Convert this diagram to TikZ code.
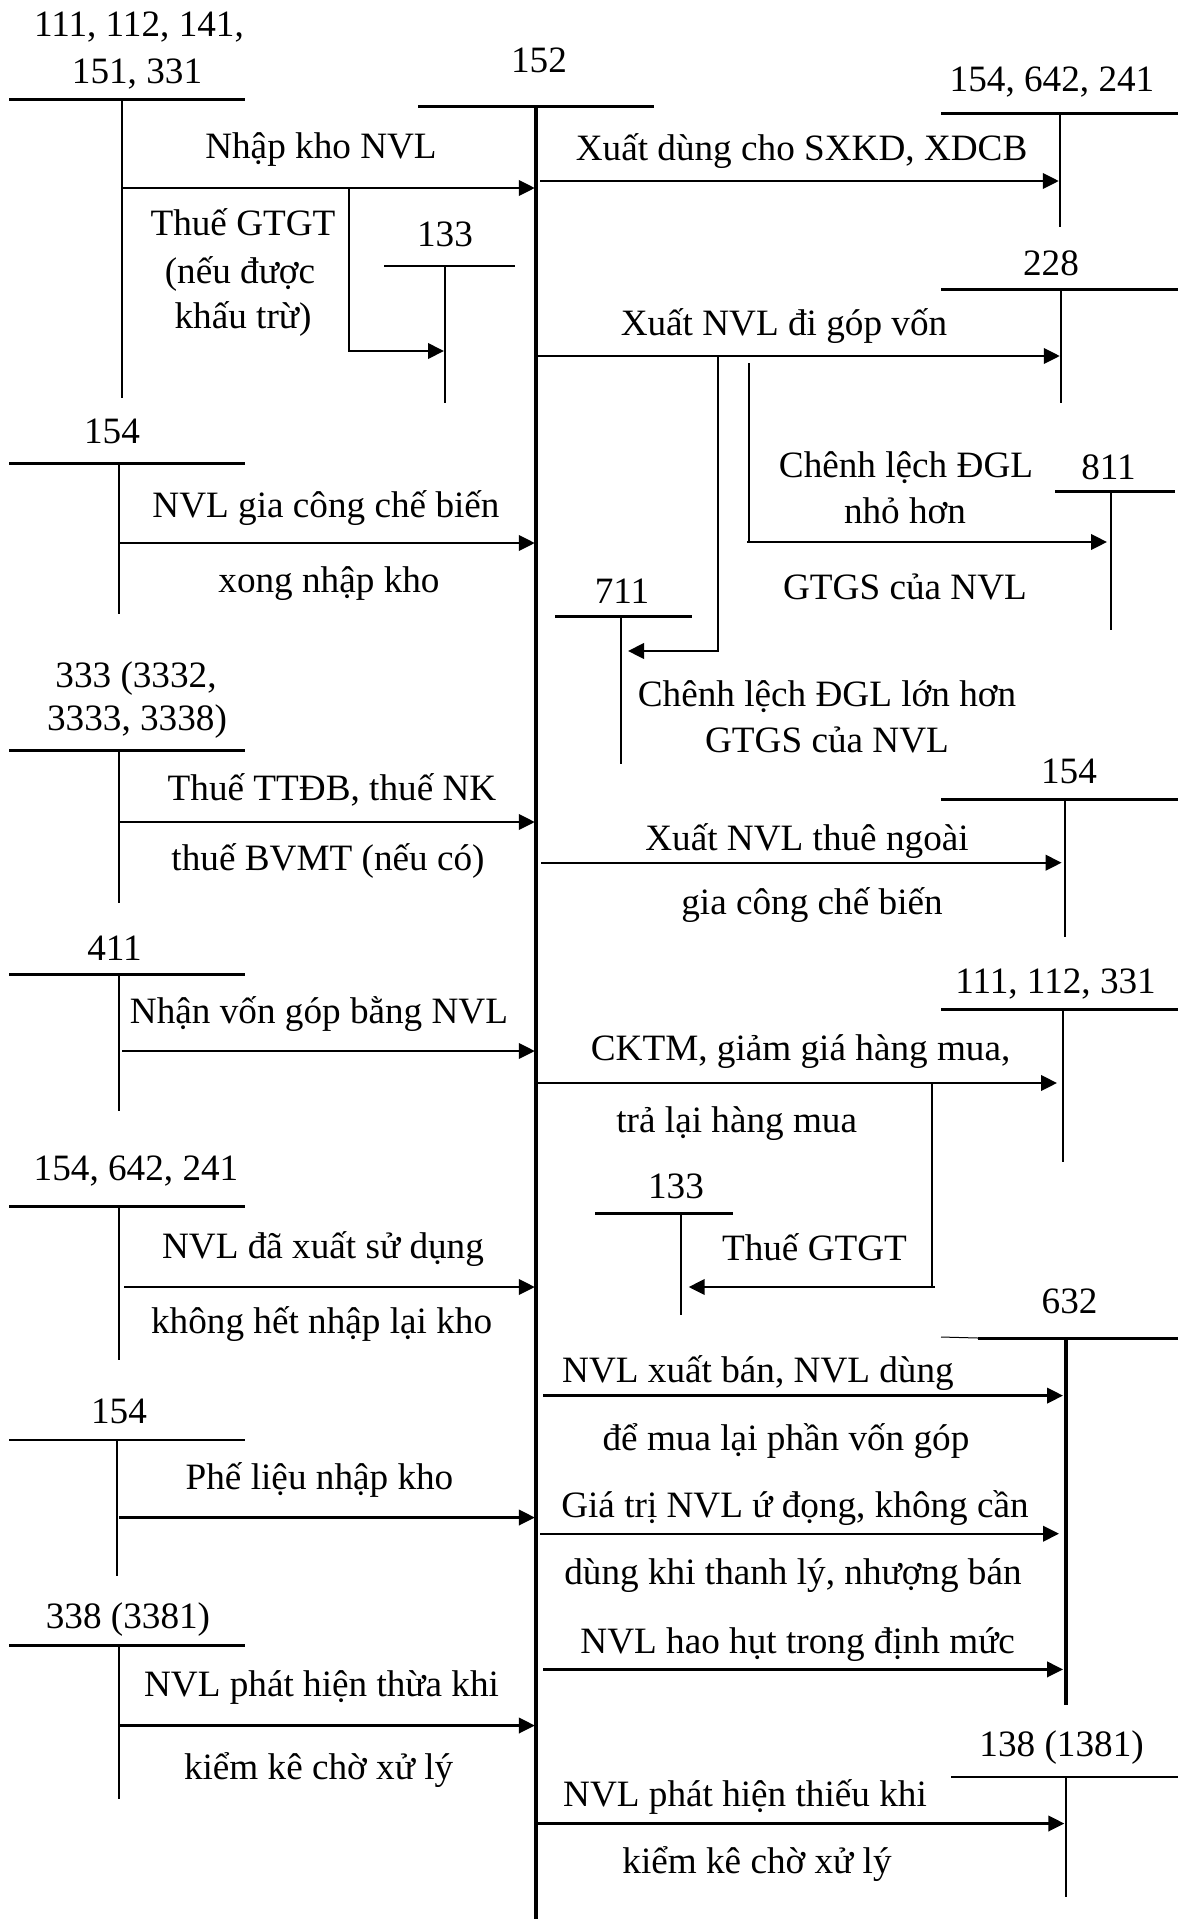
\documentclass[tikz,border=0pt]{standalone}
\usepackage{fontspec}
\setmainfont{Liberation Serif}
\usetikzlibrary{arrows.meta}
\begin{document}
\begin{tikzpicture}[x=1pt,y=-1pt,
  lbl/.style={anchor=base, inner sep=0pt, font=\fontsize{37.2}{44}\selectfont},
  tline/.style={line width=3pt},
  tthin/.style={line width=1.5pt},
  tvert/.style={line width=2pt},
  mainv/.style={line width=3.2pt},
  tip/.style={-{Triangle[length=16pt,width=15.5pt]}},
  arr/.style={line width=2.4pt, tip, shorten >=1.2pt},
  thinarr/.style={line width=2pt, tip}]
\useasboundingbox (0,0) rectangle (1178,1919);

% ---------------- 152 ----------------
\node[lbl] (n152) at (539,72) {152};
\coordinate (mL) at (418,106); \coordinate (mR) at (654,106);
\coordinate (mT) at (536,106); \coordinate (mB) at (536,1919);
\draw[tline] (mL) -- (mR);
\draw[mainv] (mT) -- (mB);

% ---------------- left: 111,112,141,151,331 ----------------
\node[lbl] (a1t1) at (139,37) {111, 112, 141,};
\node[lbl] (a1t2) at (137,83) {151, 331};
\coordinate (a1L) at (9,99); \coordinate (a1R) at (245,99);
\coordinate (a1T) at (122,99); \coordinate (a1B) at (122,398);
\coordinate (a1o) at (122,188); \coordinate (a1e) at (536,188);
\draw[tline] (a1L) -- (a1R); \draw[tvert] (a1T) -- (a1B);
\draw[arr] (a1o) -- (a1e);
\node[lbl] (a1x) at (321,158) {Nhập kho NVL};
% branch to 133
\coordinate (b1s) at (349,189); \coordinate (b1c) at (349,351); \coordinate (b1e) at (445,351);
\draw[thinarr, shorten >=1pt] (b1s) -- (b1c) -- (b1e);
\node[lbl] (b1x1) at (243,235) {Thuế GTGT};
\node[lbl] (b1x2) at (240,283) {(nếu được};
\node[lbl] (b1x3) at (243,328) {khấu trừ)};
% 133
\node[lbl] (c1n) at (445,246) {133};
\coordinate (c1L) at (384,266); \coordinate (c1R) at (515,266);
\coordinate (c1T) at (445,266); \coordinate (c1B) at (445,403);
\draw[tthin] (c1L) -- (c1R); \draw[tvert] (c1T) -- (c1B);

% ---------------- left: 154 ----------------
\node[lbl] (a2n) at (112,443) {154};
\coordinate (a2L) at (9,463); \coordinate (a2R) at (245,463);
\coordinate (a2T) at (119,463); \coordinate (a2B) at (119,614);
\coordinate (a2o) at (119,543); \coordinate (a2e) at (536,543);
\draw[tline] (a2L) -- (a2R); \draw[tvert] (a2T) -- (a2B);
\draw[arr] (a2o) -- (a2e);
\node[lbl] (a2x1) at (326,517) {NVL gia công chế biến};
\node[lbl] (a2x2) at (329,592) {xong nhập kho};

% ---------------- left: 333 ----------------
\node[lbl] (a3n1) at (136,687) {333 (3332,};
\node[lbl] (a3n2) at (137,730) {3333, 3338)};
\coordinate (a3L) at (9,750); \coordinate (a3R) at (245,750);
\coordinate (a3T) at (119,750); \coordinate (a3B) at (119,903);
\coordinate (a3o) at (119,822); \coordinate (a3e) at (536,822);
\draw[tline] (a3L) -- (a3R); \draw[tvert] (a3T) -- (a3B);
\draw[arr] (a3o) -- (a3e);
\node[lbl] (a3x1) at (332,800) {Thuế TTĐB, thuế NK};
\node[lbl] (a3x2) at (328,870) {thuế BVMT (nếu có)};

% ---------------- left: 411 ----------------
\node[lbl] (a4n) at (114.5,960) {411};
\coordinate (a4L) at (9,974); \coordinate (a4R) at (245,974);
\coordinate (a4T) at (119,974); \coordinate (a4B) at (119,1111);
\coordinate (a4o) at (122,1051); \coordinate (a4e) at (536,1051);
\draw[tline] (a4L) -- (a4R); \draw[tvert] (a4T) -- (a4B);
\draw[arr] (a4o) -- (a4e);
\node[lbl] (a4x) at (319,1023) {Nhận vốn góp bằng NVL};

% ---------------- left: 154, 642, 241 ----------------
\node[lbl] (a5n) at (136,1180) {154, 642, 241};
\coordinate (a5L) at (9,1206); \coordinate (a5R) at (245,1206);
\coordinate (a5T) at (119,1206); \coordinate (a5B) at (119,1360);
\coordinate (a5o) at (124,1287); \coordinate (a5e) at (536,1287);
\draw[tline] (a5L) -- (a5R); \draw[tvert] (a5T) -- (a5B);
\draw[arr] (a5o) -- (a5e);
\node[lbl] (a5x1) at (323,1258) {NVL đã xuất sử dụng};
\node[lbl] (a5x2) at (321.6,1333) {không hết nhập lại kho};

% ---------------- left: 154 ----------------
\node[lbl] (a6n) at (119,1423) {154};
\coordinate (a6L) at (9,1440); \coordinate (a6R) at (245,1440);
\coordinate (a6T) at (117,1440); \coordinate (a6B) at (117,1576);
\coordinate (a6o) at (119,1517.5); \coordinate (a6e) at (536,1517.5);
\draw[tthin] (a6L) -- (a6R); \draw[tvert] (a6T) -- (a6B);
\draw[arr] (a6o) -- (a6e);
\node[lbl] (a6x) at (319.5,1489) {Phế liệu nhập kho};

% ---------------- left: 338 (3381) ----------------
\node[lbl] (a7n) at (128,1628) {338 (3381)};
\coordinate (a7L) at (9,1645); \coordinate (a7R) at (245,1645);
\coordinate (a7T) at (119,1645); \coordinate (a7B) at (119,1799);
\coordinate (a7o) at (120,1725.5); \coordinate (a7e) at (536,1725.5);
\draw[tline] (a7L) -- (a7R); \draw[tvert] (a7T) -- (a7B);
\draw[arr] (a7o) -- (a7e);
\node[lbl] (a7x1) at (321.5,1696) {NVL phát hiện thừa khi};
\node[lbl] (a7x2) at (318.6,1779) {kiểm kê chờ xử lý};

% ---------------- right: 154, 642, 241 ----------------
\node[lbl] (r1n) at (1052,92) {154, 642, 241};
\coordinate (r1L) at (941,113); \coordinate (r1R) at (1178,113);
\coordinate (r1T) at (1060,113); \coordinate (r1B) at (1060,227);
\coordinate (r1o) at (540,181); \coordinate (r1e) at (1060,181);
\draw[tline] (r1L) -- (r1R); \draw[tvert] (r1T) -- (r1B);
\draw[arr] (r1o) -- (r1e);
\node[lbl] (r1x) at (801.6,160) {Xuất dùng cho SXKD, XDCB};

% ---------------- right: 228 ----------------
\node[lbl] (r2n) at (1051,275) {228};
\coordinate (r2L) at (941,289); \coordinate (r2R) at (1178,289);
\coordinate (r2T) at (1061,289); \coordinate (r2B) at (1061,403);
\coordinate (r2o) at (536,356); \coordinate (r2e) at (1061,356);
\draw[tline] (r2L) -- (r2R); \draw[tvert] (r2T) -- (r2B);
\draw[arr] (r2o) -- (r2e);
\node[lbl] (r2x) at (784,335) {Xuất NVL đi góp vốn};
% branch to 711
\coordinate (b2s) at (718,356); \coordinate (b2c) at (718,651); \coordinate (b2e) at (621,651);
\draw[line width=2.4pt, tip, shorten >=7pt] (b2s) -- (b2c) -- (b2e);
% branch to 811
\coordinate (b3s) at (748.6,363); \coordinate (b3c) at (748.6,542); \coordinate (b3e) at (1111,542);
\draw[tvert] (b3s) -- (b3c);
\coordinate (b3h) at (747,542);
\draw[arr, shorten >=4pt] (b3h) -- (b3e);
% 711
\node[lbl] (c2n) at (622,603) {711};
\coordinate (c2L) at (555,616); \coordinate (c2R) at (692,616);
\coordinate (c2T) at (621,616); \coordinate (c2B) at (621,764);
\draw[tline] (c2L) -- (c2R); \draw[tvert] (c2T) -- (c2B);
\node[lbl] (c2x1) at (827,706) {Chênh lệch ĐGL lớn hơn};
\node[lbl] (c2x2) at (827,752) {GTGS của NVL};
% 811
\node[lbl] (c3n) at (1108.5,479) {811};
\coordinate (c3L) at (1055,491); \coordinate (c3R) at (1175,491);
\coordinate (c3T) at (1111,491); \coordinate (c3B) at (1111,630);
\draw[tline] (c3L) -- (c3R); \draw[tvert] (c3T) -- (c3B);
\node[lbl] (c3x1) at (906,477) {Chênh lệch ĐGL};
\node[lbl] (c3x2) at (905,523) {nhỏ hơn};
\node[lbl] (c3x3) at (905,599) {GTGS của NVL};

% ---------------- right: 154 ----------------
\node[lbl] (r3n) at (1069,783) {154};
\coordinate (r3L) at (941,799); \coordinate (r3R) at (1178,799);
\coordinate (r3T) at (1064.6,799); \coordinate (r3B) at (1064.6,937);
\coordinate (r3o) at (541,862.7); \coordinate (r3e) at (1064.6,862.7);
\draw[tline] (r3L) -- (r3R); \draw[tvert] (r3T) -- (r3B);
\draw[arr, shorten >=3pt] (r3o) -- (r3e);
\node[lbl] (r3x1) at (807,850) {Xuất NVL thuê ngoài};
\node[lbl] (r3x2) at (812,914) {gia công chế biến};

% ---------------- right: 111, 112, 331 ----------------
\node[lbl] (r4n) at (1055.6,993) {111, 112, 331};
\coordinate (r4L) at (941,1009); \coordinate (r4R) at (1178,1009);
\coordinate (r4T) at (1063,1009); \coordinate (r4B) at (1063,1162);
\coordinate (r4o) at (536,1083); \coordinate (r4e) at (1063,1083);
\draw[tline] (r4L) -- (r4R); \draw[tvert] (r4T) -- (r4B);
\draw[arr, shorten >=6pt] (r4o) -- (r4e);
\node[lbl] (r4x1) at (800.6,1060) {CKTM, giảm giá hàng mua,};
\node[lbl] (r4x2) at (736.7,1132) {trả lại hàng mua};
% branch to 133
\coordinate (b4s) at (931.5,1084); \coordinate (b4c) at (931.5,1287);
\draw[tvert] (b4s) -- (b4c);
\coordinate (b4h) at (935,1287); \coordinate (b4e) at (680.7,1287);
\draw[arr, shorten >=8pt] (b4h) -- (b4e);
% 133
\node[lbl] (c4n) at (676,1198) {133};
\coordinate (c4L) at (595,1213); \coordinate (c4R) at (733,1213);
\coordinate (c4T) at (680.7,1213); \coordinate (c4B) at (680.7,1315);
\draw[tline] (c4L) -- (c4R); \draw[tvert] (c4T) -- (c4B);
\node[lbl] (c4x) at (814.5,1260) {Thuế GTGT};

% ---------------- right: 632 ----------------
\node[lbl] (r5n) at (1069.6,1313) {632};
\coordinate (r5L0) at (941,1337); \coordinate (r5L) at (978,1338); \coordinate (r5R) at (1178,1338);
\coordinate (r5T) at (1066,1338); \coordinate (r5B) at (1066,1705);
\draw[line width=1pt] (r5L0) -- (r5L);
\draw[tline] (r5L) -- (r5R); \draw[mainv] (r5T) -- (r5B);
\coordinate (r5o1) at (543,1395.6); \coordinate (r5e1) at (1066,1395.6);
\coordinate (r5o2) at (540,1533.7); \coordinate (r5e2) at (1066,1533.7);
\coordinate (r5o3) at (543,1669.4); \coordinate (r5e3) at (1066,1669.4);
\draw[arr, shorten >=3pt] (r5o1) -- (r5e1);
\draw[arr, shorten >=7pt] (r5o2) -- (r5e2);
\draw[arr, shorten >=3pt] (r5o3) -- (r5e3);
\node[lbl] (r5x1) at (758,1382) {NVL xuất bán, NVL dùng};
\node[lbl] (r5x2) at (786,1450.5) {để mua lại phần vốn góp};
\node[lbl] (r5x3) at (795,1517.5) {Giá trị NVL ứ đọng, không cần};
\node[lbl] (r5x4) at (793,1584.5) {dùng khi thanh lý, nhượng bán};
\node[lbl] (r5x5) at (797.7,1653) {NVL hao hụt trong định mức};

% ---------------- right: 138 (1381) ----------------
\node[lbl] (r6n) at (1061.6,1756) {138 (1381)};
\coordinate (r6L) at (951,1777); \coordinate (r6R) at (1178,1777);
\coordinate (r6T) at (1065.5,1777); \coordinate (r6B) at (1065.5,1897);
\coordinate (r6o) at (536,1823.5); \coordinate (r6e) at (1065.5,1823.5);
\draw[tthin] (r6L) -- (r6R); \draw[tvert] (r6T) -- (r6B);
\draw[arr] (r6o) -- (r6e);
\node[lbl] (r6x1) at (745,1806) {NVL phát hiện thiếu khi};
\node[lbl] (r6x2) at (757,1873) {kiểm kê chờ xử lý};
\end{tikzpicture}
\end{document}
